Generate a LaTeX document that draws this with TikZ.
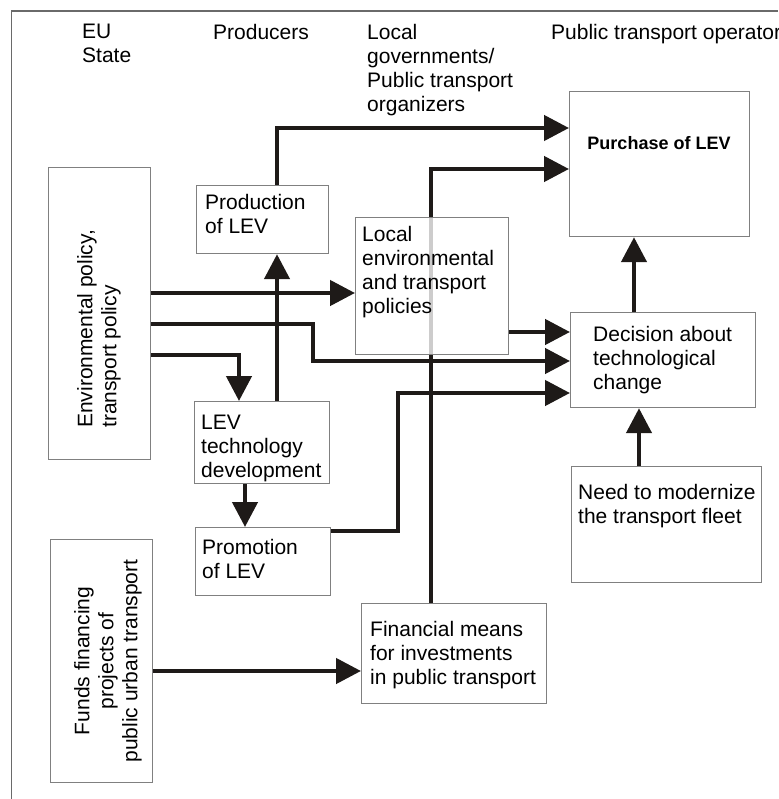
\documentclass[tikz,border=0pt]{standalone}
\usepackage{fontspec}
\setmainfont{Liberation Sans}
\usetikzlibrary{arrows.meta}
\definecolor{boxgray}{HTML}{808080}
\definecolor{arrcol}{HTML}{1E1A18}
\definecolor{framecol}{HTML}{6A6A6A}
\begin{document}
\begin{tikzpicture}[x=1pt,y=-1pt,
  font=\fontsize{21}{24}\selectfont,
  boxst/.style={draw=boxgray, line width=1.2pt, inner sep=0pt, anchor=north west},
  txt/.style={anchor=north west, inner sep=0pt, align=left},
  arr/.style={line width=4.5pt, draw=arrcol, -{Triangle[length=25pt,width=25pt]}},
]
\useasboundingbox (0,0) rectangle (778,799);
% frame
\draw[framecol, line width=1.2pt] (11.5,799) -- (11.5,11) -- (778,11);

% headers
\node[txt] (hEU) at (82,24) {EU\\State};
\node[txt] (hProd) at (213,24) {Producers};
\node[txt] (hLoc) at (367,24) {Local\\governments/\\Public transport\\organizers};
\node[txt] (hOp) at (551,24) {Public transport operator};

% boxes
\node[boxst, minimum width=102pt, minimum height=292pt] (env) at (48,167) {};
\node[boxst, minimum width=102pt, minimum height=243pt] (funds) at (50,539) {};
\node[boxst, minimum width=132pt, minimum height=68pt] (prod) at (196,185) {};
\node[boxst, minimum width=135pt, minimum height=82pt] (lev) at (194,401) {};
\node[boxst, minimum width=135pt, minimum height=68pt] (promo) at (195,527) {};
\node[boxst, minimum width=180pt, minimum height=145pt] (purch) at (569,91) {};
\node[boxst, minimum width=185pt, minimum height=95pt] (dec) at (570,312) {};
\node[boxst, minimum width=190pt, minimum height=116pt] (need) at (571,466) {};
\node[boxst, minimum width=185pt, minimum height=100pt] (fin) at (361,603) {};

% helper coordinates
\coordinate (cA) at (277,0);
\coordinate (rA) at (0,128);
\coordinate (cB) at (431,0);
\coordinate (rB) at (0,169);
\coordinate (rC) at (0,293);
\coordinate (rD) at (0,324);
\coordinate (cD) at (313,0);
\coordinate (rD2) at (0,361);
\coordinate (rE) at (0,355);
\coordinate (cE) at (239,0);
\coordinate (cG) at (245,0);
\coordinate (rH) at (0,531);
\coordinate (cH) at (398,0);
\coordinate (rH2) at (0,393);
\coordinate (rI) at (0,332);
\coordinate (cJ) at (634,0);
\coordinate (cK) at (639,0);
\coordinate (rL) at (0,671);

% connectors
\draw[arr] (prod.north -| cA) |- (purch.west |- rA);
\draw[arr] (fin.north -| cB) |- (purch.west |- rB);
\draw[arr] (env.east |- rC) -- (355,0 |- rC);
\draw[arr] (env.east |- rD) -- (cD |- rD) -- (cD |- rD2) -- (dec.west |- rD2);
\draw[arr] (env.east |- rE) -| (lev.north -| cE);
\draw[arr] (lev.north -| cA) -- (prod.south -| cA);
\draw[arr] (lev.south -| cG) -- (promo.north -| cG);
\draw[arr] (promo.east |- rH) -- (cH |- rH) -- (cH |- rH2) -- (dec.west |- rH2);
\draw[arr] (508,0 |- rI) -- (dec.west |- rI);
\draw[arr] (dec.north -| cJ) -- (purch.south -| cJ);
\draw[arr] (need.north -| cK) -- (dec.south -| cK);
\draw[arr] (funds.east |- rL) -- (fin.west |- rL);

% translucent local box on top
\node[boxst, fill=white, fill opacity=0.78, minimum width=153pt, minimum height=137pt] (local) at (355,217) {};

% texts
\node[txt, rotate=90] (envt) at (77,428) {Environmental policy,\\transport policy};
\node[rotate=90, inner sep=0pt, align=center] (fundst) at (108,661) {Funds financing\\projects of\\public urban transport};
\node[txt] (prodt) at (205,194) {Production\\of LEV};
\node[txt] (levt) at (201,415) {LEV\\technology\\development};
\node[txt] (promot) at (202,539) {Promotion\\of LEV};
\node[txt] (localt) at (362,226) {Local\\environmental\\and transport\\policies};
\node[inner sep=0pt, font=\bfseries\fontsize{18}{22}\selectfont] (purcht) at (659,143) {Purchase of LEV};
\node[txt] (dect) at (593,326) {Decision about\\technological\\change};
\node[txt] (needt) at (578,484) {Need to modernize\\the transport fleet};
\node[txt] (fint) at (370,621) {Financial means\\for investments\\in public transport};
\end{tikzpicture}
\end{document}
